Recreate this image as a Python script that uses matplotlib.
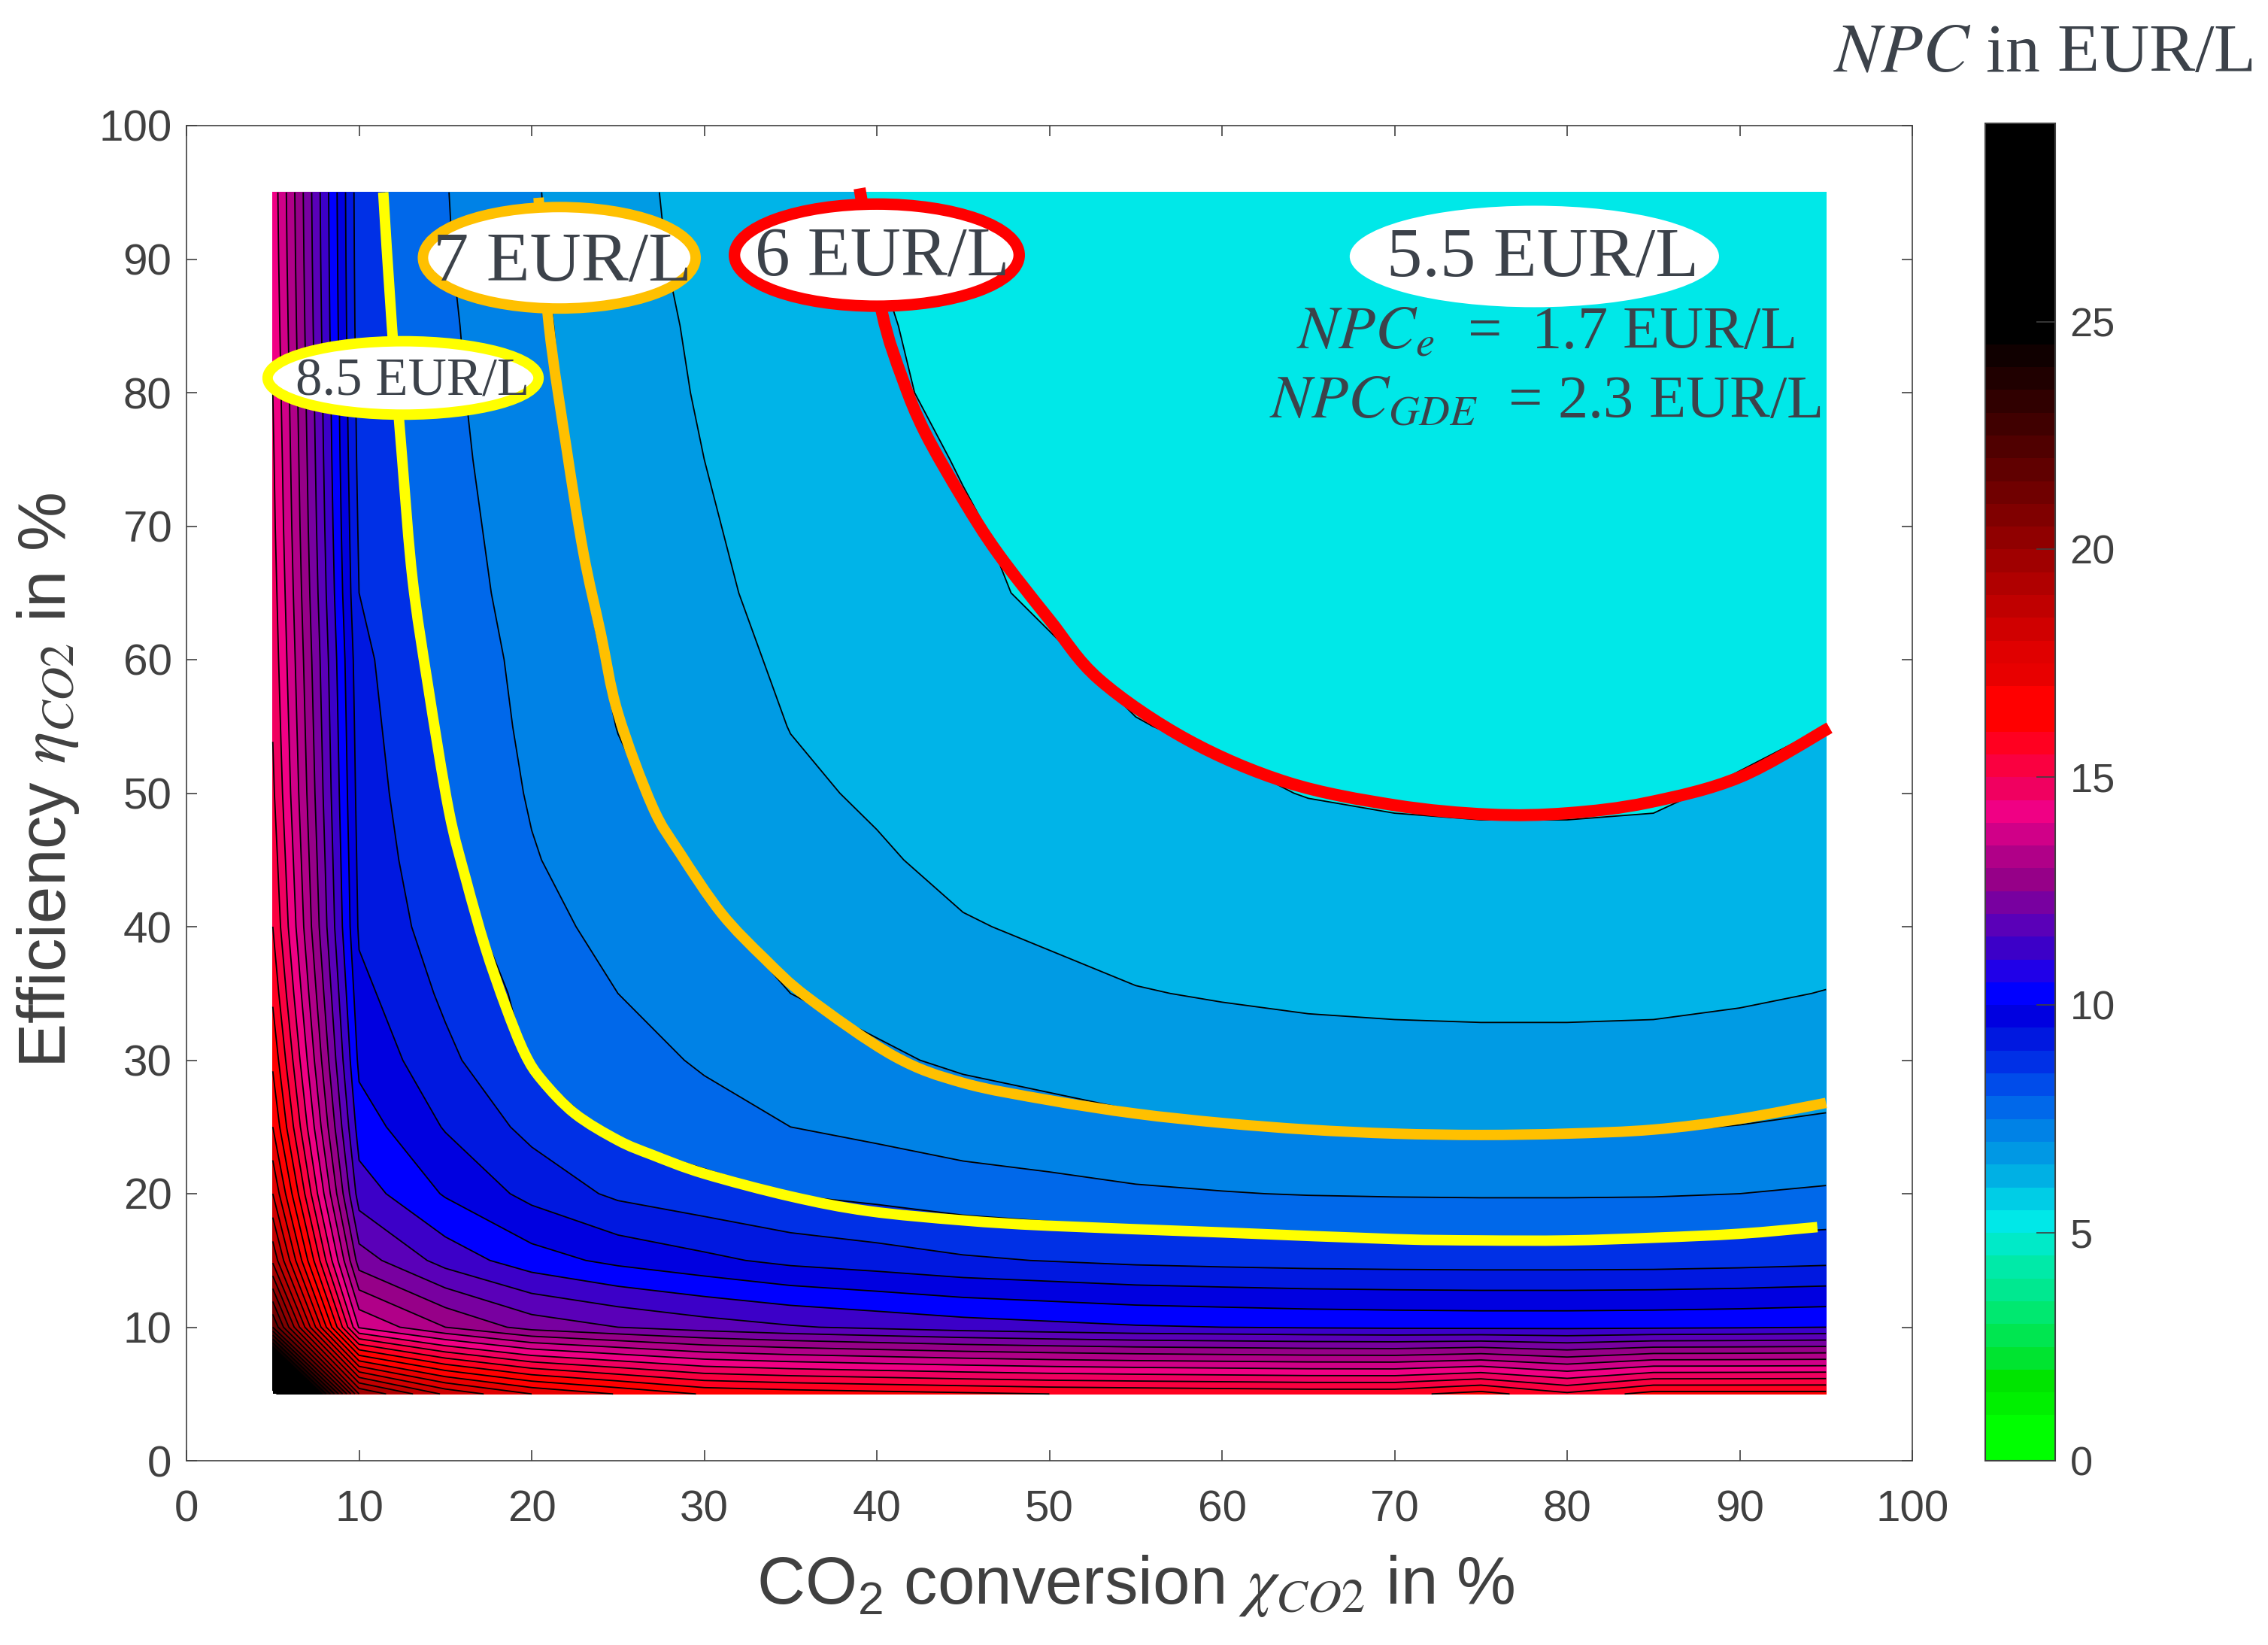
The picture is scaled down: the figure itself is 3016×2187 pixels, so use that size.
"""NPC contour map over CO2 conversion and efficiency."""
import numpy as np
import matplotlib
matplotlib.use("Agg")
import matplotlib.pyplot as plt
from matplotlib.cm import ScalarMappable
from matplotlib.colors import BoundaryNorm, ListedColormap
from matplotlib.patches import Ellipse, PathPatch
from matplotlib.path import Path

plt.rcParams['font.family'] = ['Liberation Sans', 'DejaVu Sans']
plt.rcParams['mathtext.fontset'] = 'stix'

conversion = [5, 10, 15, 20, 25, 30, 35, 40, 45, 50, 55, 60, 65, 70, 75, 80, 85, 90, 95]
efficiency = [5, 10, 15, 20, 25, 30, 35, 40, 45, 50, 55, 60, 65, 70, 75, 80, 85, 90, 95]

# NPC in EUR/L, one row per efficiency value
npc_05 = [29.5, 19.0, 17.4, 16.5, 15.97, 15.45, 15.3, 15.2, 15.1, 15.0, 14.95, 14.9, 14.85, 14.85, 15.2, 14.6, 15.2, 15.2, 15.2]
npc_10 = [21.0, 12.95, 12.0, 11.3, 11.0, 10.75, 10.55, 10.4, 10.25, 10.15, 10.05, 10.0, 9.95, 9.92, 9.9, 9.9, 9.92, 9.95, 10.0]
npc_15 = [18.4, 11.25, 10.3, 9.72, 9.37, 9.12, 8.87, 8.73, 8.57, 8.48, 8.39, 8.34, 8.3, 8.28, 8.27, 8.27, 8.28, 8.32, 8.38]
npc_20 = [17.0, 10.25, 9.45, 8.85, 8.4, 8.18, 7.98, 7.86, 7.73, 7.66, 7.57, 7.52, 7.48, 7.46, 7.45, 7.45, 7.46, 7.5, 7.56]
npc_25 = [16.0, 9.75, 8.96, 8.35, 7.88, 7.7, 7.5, 7.38, 7.26, 7.17, 7.08, 7.03, 6.99, 6.97, 6.96, 6.96, 6.97, 7.01, 7.07]
npc_30 = [15.4, 9.38, 8.63, 7.95, 7.7, 7.44, 7.2, 7.07, 6.93, 6.84, 6.75, 6.7, 6.66, 6.64, 6.63, 6.63, 6.64, 6.68, 6.74]
npc_35 = [14.9, 9.15, 8.4, 7.85, 7.5, 7.25, 7.0, 6.86, 6.7, 6.61, 6.52, 6.47, 6.43, 6.41, 6.4, 6.4, 6.41, 6.45, 6.51]
npc_40 = [14.5, 8.92, 8.23, 7.68, 7.33, 7.08, 6.83, 6.69, 6.53, 6.44, 6.35, 6.3, 6.26, 6.24, 6.23, 6.23, 6.24, 6.28, 6.34]
npc_45 = [14.3, 8.85, 8.09, 7.54, 7.19, 6.94, 6.69, 6.55, 6.39, 6.3, 6.21, 6.16, 6.12, 6.07, 6.06, 6.06, 6.07, 6.14, 6.2]
npc_50 = [14.1, 8.78, 7.98, 7.45, 7.08, 6.83, 6.58, 6.44, 6.28, 6.19, 6.1, 6.05, 5.99, 5.97, 5.96, 5.96, 5.97, 6.03, 6.09]
npc_55 = [13.97, 8.72, 7.89, 7.39, 6.99, 6.74, 6.49, 6.35, 6.19, 6.1, 6.01, 5.96, 5.92, 5.9, 5.89, 5.89, 5.9, 5.94, 6.0]
npc_60 = [13.85, 8.65, 7.82, 7.35, 6.92, 6.67, 6.42, 6.28, 6.12, 6.03, 5.94, 5.89, 5.85, 5.83, 5.82, 5.82, 5.83, 5.87, 5.93]
npc_65 = [13.75, 8.5, 7.75, 7.28, 6.85, 6.6, 6.35, 6.21, 6.05, 5.96, 5.87, 5.82, 5.78, 5.76, 5.75, 5.75, 5.76, 5.8, 5.86]
npc_70 = [13.65, 8.42, 7.7, 7.23, 6.8, 6.55, 6.3, 6.16, 6.03, 5.91, 5.82, 5.77, 5.73, 5.71, 5.7, 5.7, 5.71, 5.75, 5.81]
npc_75 = [13.58, 8.35, 7.65, 7.18, 6.75, 6.5, 6.25, 6.11, 5.98, 5.86, 5.77, 5.72, 5.68, 5.66, 5.65, 5.65, 5.66, 5.7, 5.76]
npc_80 = [13.5, 8.3, 7.61, 7.14, 6.71, 6.46, 6.21, 6.07, 5.91, 5.82, 5.73, 5.68, 5.64, 5.62, 5.61, 5.61, 5.62, 5.66, 5.72]
npc_85 = [13.42, 8.25, 7.58, 7.11, 6.68, 6.43, 6.18, 6.04, 5.88, 5.79, 5.7, 5.65, 5.61, 5.59, 5.58, 5.58, 5.59, 5.63, 5.69]
npc_90 = [13.35, 8.22, 7.54, 7.07, 6.64, 6.39, 6.14, 6.0, 5.84, 5.75, 5.66, 5.61, 5.57, 5.55, 5.54, 5.54, 5.55, 5.59, 5.65]
npc_95 = [13.3, 8.2, 7.52, 7.05, 6.62, 6.37, 6.12, 5.98, 5.82, 5.73, 5.64, 5.59, 5.55, 5.53, 5.52, 5.52, 5.53, 5.57, 5.63]

# hand drawn highlight curves
yellow_x = [11.4, 11.9, 12.5, 13.1, 14.0, 15.2, 16.2, 17.3, 18.5, 19.6, 20.6, 22.5, 25, 27, 30, 35, 39.5, 45, 50, 60, 70, 75, 80, 85, 90, 94.5]
yellow_y = [95, 85, 75, 66, 58, 48.7, 43.5, 38.5, 34, 30.5, 28.5, 26, 24, 22.9, 21.5, 19.8, 18.7, 18, 17.6, 17.1, 16.6, 16.5, 16.5, 16.7, 17, 17.5]
orange_x = [20.4, 21, 22, 23, 24, 25, 27, 28.6, 31, 33.5, 36, 41, 45, 50, 55, 60, 65, 70, 75, 80, 85, 90, 95]
orange_y = [94.6, 85, 76, 68, 62, 56, 49, 45.5, 41, 37.6, 34.7, 30.3, 28.3, 27, 26, 25.3, 24.8, 24.5, 24.4, 24.5, 24.8, 25.6, 26.8]
red_x = [39, 40.3, 41.5, 42.8, 45, 47, 50, 52.9, 58, 63.8, 70, 75.5, 80, 84.7, 90, 95.2]
red_y = [95.3, 86, 81, 77, 72, 68, 63, 58.5, 54, 50.8, 49.1, 48.4, 48.5, 49.3, 51.2, 54.9]

# colorbar bands from 0 to 25 in steps of 0.5
band_colors = ['#00ff00', '#00ff00', '#00f000', '#00e400', '#00e430', '#00e650', '#00e870', '#00e890',
               '#00eaa8', '#00eac8', '#00e8e8', '#00cde6', '#00b0e4', '#0098e4', '#0082e6', '#0068ea',
               '#004cea', '#0030e6', '#0018e0', '#0000e0', '#0000ff', '#2000e8', '#3c00c8', '#5a00b8',
               '#7800a0', '#960088', '#b00088', '#d00088', '#f00084', '#f00060', '#fa0040', '#ff0020',
               '#ff0000', '#ff0000', '#e80000', '#e00000', '#d00000', '#c00000', '#b00000', '#a00000',
               '#900000', '#800000', '#700000', '#600000', '#500000', '#400000', '#300000', '#200000',
               '#100000', '#000000'] + ['#000000'] * 10
levels = np.arange(0, 30.5, 0.5)
tick_vals = [0, 10, 20, 30, 40, 50, 60, 70, 80, 90, 100]
bar_ticks = [0, 5, 10, 15, 20, 25]

TEXT_GREY = '#3c424a'
AXIS_GREY = '#404040'

# the filled map sits a little above the colorbar colours
plot_colors = (band_colors[:11] + ['#00e8e8', '#00b4e8', '#009be4', '#0082e6', '#0068ea']
               + band_colors[17:21] + band_colors[22:] + ['#000000', '#000000'])

npc = np.array([npc_05, npc_10, npc_15, npc_20, npc_25, npc_30, npc_35, npc_40, npc_45, npc_50,
                npc_55, npc_60, npc_65, npc_70, npc_75, npc_80, npc_85, npc_90, npc_95])


def smooth_curve(ax, xs, ys, color, lw):
    # bezier through the read points, so the thick lines have no kinks
    pts = np.column_stack([xs, ys])
    verts = [pts[0]]
    for i in range(len(pts) - 1):
        p0 = pts[max(i - 1, 0)]
        p1 = pts[i]
        p2 = pts[i + 1]
        p3 = pts[min(i + 2, len(pts) - 1)]
        verts += [p1 + (p2 - p0) / 6, p2 - (p3 - p1) / 6, p2]
    codes = [Path.MOVETO] + [Path.CURVE4] * (len(verts) - 1)
    ax.add_patch(PathPatch(Path(verts, codes), fc='none', ec=color, lw=lw, capstyle='butt', zorder=4))


W, H = 3016, 2187
fig = plt.figure(figsize=(W / 100, H / 100), dpi=100)
ax = fig.add_axes([248 / W, 1 - 1942 / H, (2543 - 248) / W, (1942 - 167) / H])

ax.contourf(conversion, efficiency, npc, levels=levels, colors=plot_colors)
ax.contour(conversion, efficiency, npc, levels=levels, colors='k', linewidths=1.3, linestyles='solid')

smooth_curve(ax, yellow_x, yellow_y, '#ffff00', 10)
smooth_curve(ax, orange_x, orange_y, '#ffc000', 10)
smooth_curve(ax, red_x, red_y, '#ff0000', 11.5)

ax.add_patch(Ellipse((12.55, 81.1), 15.7, 5.5, fc='white', ec='#ffff00', lw=10, zorder=5))
ax.add_patch(Ellipse((21.6, 90.1), 15.8, 7.6, fc='white', ec='#ffc000', lw=10, zorder=5))
ax.add_patch(Ellipse((40.0, 90.3), 16.5, 7.65, fc='white', ec='#ff0000', lw=11, zorder=5))
ax.add_patch(Ellipse((78.1, 90.2), 21.4, 7.6, fc='white', ec='none', zorder=5))

serif = ['Liberation Serif', 'DejaVu Serif']
ax.text(13.1, 80.8, '8.5 EUR/L', family=serif, fontsize=51, color=TEXT_GREY, ha='center', va='center', zorder=6)
ax.text(21.8, 89.7, '7 EUR/L', family=serif, fontsize=68, color=TEXT_GREY, ha='center', va='center', zorder=6)
ax.text(40.3, 90.0, '6 EUR/L', family=serif, fontsize=67, color=TEXT_GREY, ha='center', va='center', zorder=6)
ax.text(78.6, 90.0, '5.5 EUR/L', family=serif, fontsize=68, color=TEXT_GREY, ha='center', va='center', zorder=6)
ax.text(93.2, 83.3, r'$NPC_{e}$  =  1.7 EUR/L', family=serif, fontsize=58, color=TEXT_GREY, ha='right', va='baseline', zorder=6)
ax.text(94.7, 78.1, r'$NPC_{GDE}$  = 2.3 EUR/L', family=serif, fontsize=58, color=TEXT_GREY, ha='right', va='baseline', zorder=6)

ax.set_xlim(0, 100)
ax.set_ylim(0, 100)
ax.set_xticks(tick_vals)
ax.set_yticks(tick_vals)
ax.tick_params(direction='in', top=True, right=True, length=10, width=1.2, color=AXIS_GREY,
               labelcolor=AXIS_GREY, labelsize=42, pad=14)
ax.tick_params(axis='x', pad=28)
for sp in ax.spines.values():
    sp.set_color(AXIS_GREY)
    sp.set_linewidth(1.2)

fig.text(1510 / W, 1 - 2108 / H, r'CO$\mathregular{_2}$ conversion $\chi_{CO2}$ in %', fontsize=64,
         color=AXIS_GREY, ha='center', va='center')
fig.text(64 / W, 1 - 1038 / H, r'Efficiency $\eta_{CO2}$ in %', fontsize=64, color=AXIS_GREY,
         rotation=90, ha='center', va='center')
fig.text(2996 / W, 1 - 72 / H, r'$NPC$ in EUR/L', family=serif, fontsize=66, color=TEXT_GREY,
         ha='right', va='center')

cax = fig.add_axes([2640 / W, 1 - 1942 / H, (2733 - 2640) / W, (1942 - 164) / H])
cb = fig.colorbar(ScalarMappable(BoundaryNorm(levels, 60), ListedColormap(band_colors)), cax=cax,
                  spacing='proportional')
cb.set_ticks(bar_ticks)
cb.ax.minorticks_off()
cax.set_ylim(0, 29.35)
cax.tick_params(direction='in', length=18, width=1.2, color=AXIS_GREY, labelcolor=AXIS_GREY,
                labelsize=39, pad=14)
cb.outline.set_edgecolor(AXIS_GREY)
cb.outline.set_linewidth(1.5)

fig.savefig('out.png', dpi=100)
